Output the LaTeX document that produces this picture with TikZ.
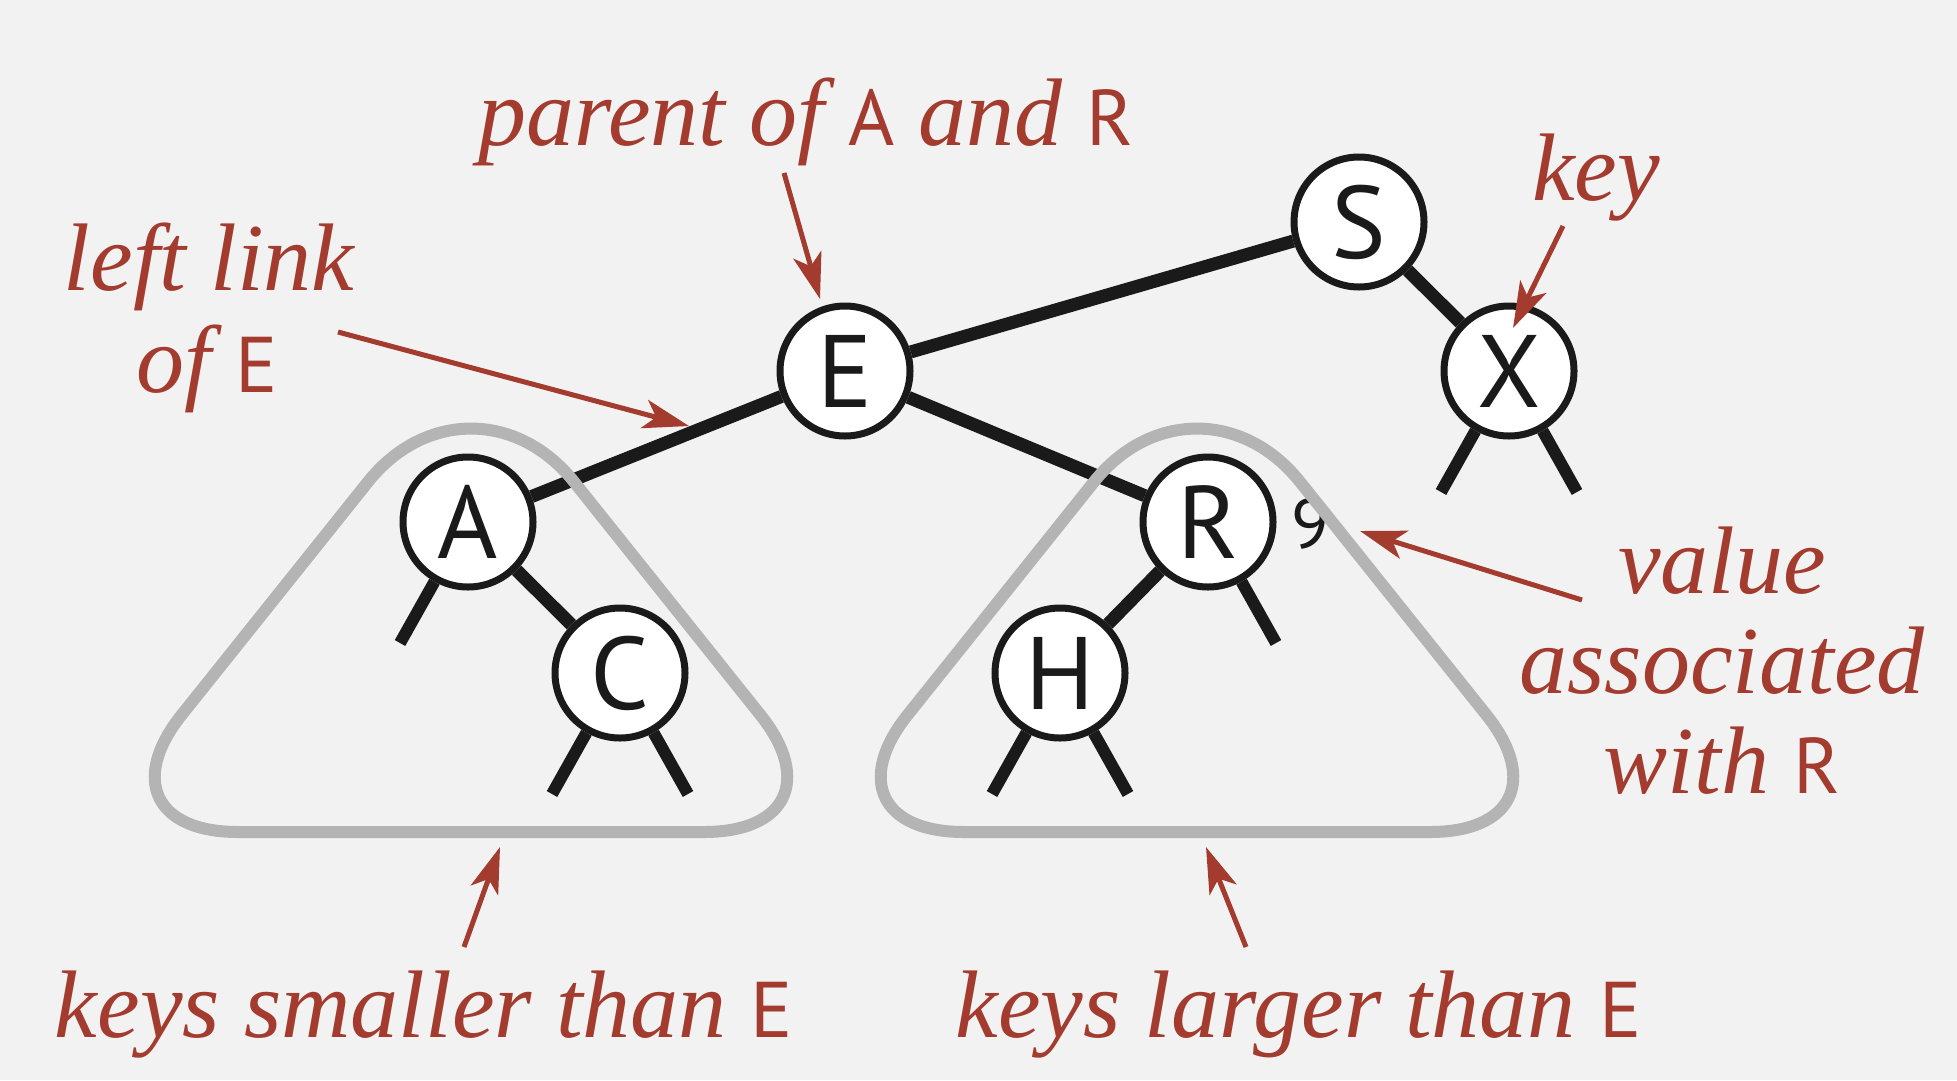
\documentclass[tikz,border=0pt]{standalone}
\usepackage{fontspec}
\setmainfont{Liberation Serif}
\newfontfamily\sansf{PT Sans}[Numbers=Lining]
\usetikzlibrary{arrows.meta,calc}
\definecolor{bgc}{RGB}{242,242,242}
\definecolor{redc}{RGB}{163,59,46}
\definecolor{grayc}{RGB}{180,180,180}
\definecolor{inkc}{RGB}{26,26,26}
\newcommand{\keyletter}[1]{{\upshape\sansf\fontsize{79}{80}\selectfont #1}}
\newcommand{\rtri}[3]{%
  \draw[tri] ($(#1)!0.5!(#3)$) -- ($(#1)!150pt!(#3)$)
    .. controls ($(#1)!67pt!(#3)$) and ($(#1)!67pt!(#2)$) .. ($(#1)!150pt!(#2)$)
    -- ($(#2)!165pt!(#1)$)
    .. controls ($(#2)!74pt!(#1)$) and ($(#2)!74pt!(#3)$) .. ($(#2)!165pt!(#3)$)
    -- ($(#3)!150pt!(#2)$)
    .. controls ($(#3)!67pt!(#2)$) and ($(#3)!67pt!(#1)$) .. ($(#3)!150pt!(#1)$)
    -- cycle;}
\begin{document}
\begin{tikzpicture}[x=1pt,y=-1pt,
  bst/.style={circle,draw=inkc,line width=7pt,fill=white,minimum size=130pt,inner sep=0pt,
              font=\sansf\fontsize{103}{103}\selectfont,text=inkc},
  link/.style={draw=inkc,line width=13pt},
  stub/.style={draw=inkc,line width=12pt},
  tri/.style={draw=grayc,line width=12pt},
  lbl/.style={anchor=base,inner sep=0pt,text=redc,font=\fontsize{96}{100}\selectfont\itshape},
  ptr/.style={draw=redc,line width=5pt,-{Stealth[length=46pt,width=29pt,inset=12pt]}},
  valtxt/.style={anchor=base,inner sep=0pt,font=\sansf\fontsize{70}{70}\selectfont,text=inkc}]
\fill[bgc] (0,0) rectangle (1957,1080);
\useasboundingbox (0,0) rectangle (1957,1080);

% tree nodes
\node[bst] (E) at (845,371) {E};
\node[bst] (S) at (1359,222) {S};
\node[bst] (X) at (1509,371) {X};
\node[bst] (A) at (468,522) {A};
\node[bst] (C) at (620,673) {C};
\node[bst] (R) at (1208,522) {R};
\node[bst] (H) at (1060,673) {H};
\node[valtxt] (v9) at (1311,548) {9};

% null-link stubs
\coordinate (A-l) at ($(A)+(-68,121)$);
\coordinate (C-l) at ($(C)+(-68,121)$);
\coordinate (C-r) at ($(C)+(68,121)$);
\coordinate (H-l) at ($(H)+(-68,121)$);
\coordinate (H-r) at ($(H)+(68,121)$);
\coordinate (R-r) at ($(R)+(68,121)$);
\coordinate (X-l) at ($(X)+(-68,121)$);
\coordinate (X-r) at ($(X)+(68,121)$);

% links
\draw[link] (E) -- (S);
\draw[link] (E) -- (A);
\draw[link] (E) -- (R);
\draw[link] (S) -- (X);
\draw[link] (A) -- (C);
\draw[link] (R) -- (H);
\draw[stub] (A) -- (A-l);
\draw[stub] (C) -- (C-l);
\draw[stub] (C) -- (C-r);
\draw[stub] (H) -- (H-l);
\draw[stub] (H) -- (H-r);
\draw[stub] (R) -- (R-r);
\draw[stub] (X) -- (X-l);
\draw[stub] (X) -- (X-r);

% subtree outlines
\coordinate (L1) at (88,832);
\coordinate (L2) at (471,353);
\coordinate (L3) at (854,832);
\coordinate (Q1) at (814,832);
\coordinate (Q2) at (1197,353);
\coordinate (Q3) at (1580,832);
\rtri{L1}{L2}{L3}
\rtri{Q1}{Q2}{Q3}

% labels
\node[lbl] (lparent) at (806,145) {parent of \keyletter{A} and \keyletter{R}};
\node[lbl] (lleft1) at (209,290) {left link};
\node[lbl] (lleft2) at (207,392) {of \keyletter{E}};
\node[lbl] (lkey) at (1596,200) {key};
\node[lbl] (lval1) at (1722,593) {value};
\node[lbl] (lval2) at (1722,693) {associated};
\node[lbl] (lval3) at (1722,793) {with \keyletter{R}};
\node[lbl] (lsmall) at (424,1037) {keys smaller than \keyletter{E}};
\node[lbl] (llarge) at (1299,1037) {keys larger than \keyletter{E}};

% pointer arrows
\coordinate (pa-t) at (784,173); \coordinate (pa-h) at (820,299);
\coordinate (ll-t) at (338,332); \coordinate (ll-h) at (689,426);
\coordinate (ky-t) at (1563,226); \coordinate (ky-h) at (1513,328);
\coordinate (va-t) at (1582,600); \coordinate (va-h) at (1360,531);
\coordinate (sm-t) at (464,947); \coordinate (sm-h) at (500,847);
\coordinate (lg-t) at (1246,947); \coordinate (lg-h) at (1206,847);
\draw[ptr] (pa-t) -- (pa-h);
\draw[ptr] (ll-t) -- (ll-h);
\draw[ptr] (ky-t) -- (ky-h);
\draw[ptr] (va-t) -- (va-h);
\draw[ptr] (sm-t) -- (sm-h);
\draw[ptr] (lg-t) -- (lg-h);
\end{tikzpicture}
\end{document}
